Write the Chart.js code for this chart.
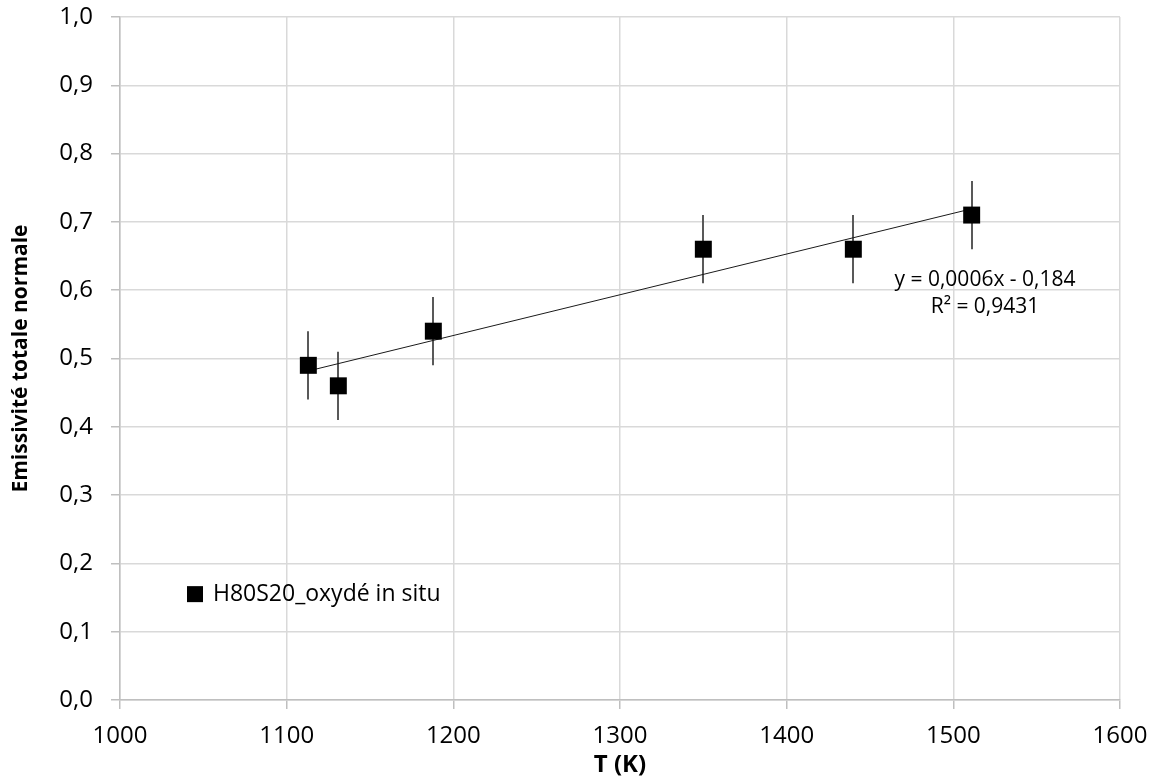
<!DOCTYPE html>
<html>
<head>
<meta charset="utf-8">
<script src="https://cdn.jsdelivr.net/npm/chart.js@4.4.0/dist/chart.umd.min.js"></script>
<style>
    html, body { margin: 0; padding: 0; background: #ffffff; }
    #wrap { width: 1159px; height: 782px; }
</style>
</head>
<body>
<div id="wrap"><canvas id="chart" width="1159" height="782"></canvas></div>
<script>
// Measured points (T in K, normal total emissivity)
const temperatures = [1113, 1131, 1188, 1350, 1440, 1511];
const emissivity = [0.49, 0.46, 0.54, 0.66, 0.66, 0.71];
const errorMargin = [0.05, 0.05, 0.05, 0.05, 0.05, 0.05];

const seriesLabel = 'H80S20_oxydé in situ';
const trendText = ['y = 0,0006x - 0,184', 'R² = 0,9431'];
const xTitle = 'T (K)';
const yTitle = 'Emissivité totale normale';

const FONT = "'Open Sans', 'Liberation Sans', sans-serif";
const TEXT_COLOR = '#000000';
const GRID_COLOR = '#d9d9d9';
const AXIS_COLOR = '#bfbfbf';

// least squares trend, same as the spreadsheet trendline
function linearFit(xs, ys) {
    const n = xs.length;
    const mx = xs.reduce((a, b) => a + b, 0) / n;
    const my = ys.reduce((a, b) => a + b, 0) / n;
    let sxy = 0, sxx = 0;
    for (let i = 0; i < n; i++) {
        sxy += (xs[i] - mx) * (ys[i] - my);
        sxx += (xs[i] - mx) * (xs[i] - mx);
    }
    const slope = sxy / sxx;
    return { slope: slope, intercept: my - slope * mx };
}

const fit = linearFit(temperatures, emissivity);
const xFirst = Math.min(...temperatures);
const xLast = Math.max(...temperatures);
const trendPoints = [
    { x: xFirst, y: fit.slope * xFirst + fit.intercept },
    { x: xLast, y: fit.slope * xLast + fit.intercept }
];
const points = temperatures.map((t, i) => ({ x: t, y: emissivity[i] }));

// vertical error bars, drawn behind the markers
const errorBarPlugin = {
    id: 'errorBars',
    beforeDatasetsDraw(chart) {
        const ctx = chart.ctx;
        const xs = chart.scales.x;
        const ys = chart.scales.y;
        ctx.save();
        ctx.strokeStyle = '#595959';
        ctx.lineWidth = 2;
        temperatures.forEach((t, i) => {
            const px = Math.round(xs.getPixelForValue(t));
            ctx.beginPath();
            ctx.moveTo(px, ys.getPixelForValue(emissivity[i] - errorMargin[i]));
            ctx.lineTo(px, ys.getPixelForValue(emissivity[i] + errorMargin[i]));
            ctx.stroke();
        });
        ctx.restore();
    }
};

// legend box inside the plot + trendline equation
const labelsPlugin = {
    id: 'labels',
    afterDraw(chart) {
        const ctx = chart.ctx;
        const xs = chart.scales.x;
        const ys = chart.scales.y;
        ctx.save();
        ctx.fillStyle = TEXT_COLOR;
        ctx.textBaseline = 'middle';

        // legend
        ctx.font = '23px ' + FONT;
        const lx = xs.getPixelForValue(1045);
        const ly = ys.getPixelForValue(0.155);
        ctx.fillRect(lx - 8, ly - 8, 16, 16);
        ctx.textAlign = 'left';
        ctx.fillText(seriesLabel, lx + 18, ly);

        // equation
        ctx.font = '21px ' + FONT;
        ctx.textAlign = 'center';
        const ex = xs.getPixelForValue(1519);
        ctx.fillText(trendText[0], ex, ys.getPixelForValue(0.615));
        ctx.fillText(trendText[1], ex, ys.getPixelForValue(0.576));
        ctx.restore();
    }
};

new Chart(document.getElementById('chart'), {
    type: 'scatter',
    data: {
        datasets: [
            {
                label: 'trend',
                type: 'line',
                data: trendPoints,
                borderColor: '#1a1a1a',
                borderWidth: 1,
                pointRadius: 0,
                fill: false,
                order: 2
            },
            {
                label: seriesLabel,
                data: points,
                pointStyle: 'rect',
                pointRadius: 12,
                pointHoverRadius: 12,
                backgroundColor: '#000000',
                borderColor: '#000000',
                borderWidth: 0,
                order: 1
            }
        ]
    },
    options: {
        responsive: false,
        animation: false,
        layout: { padding: { top: 17, right: 39, left: 0, bottom: 0 } },
        plugins: {
            legend: { display: false },
            tooltip: { enabled: false }
        },
        scales: {
            x: {
                type: 'linear',
                min: 1000,
                max: 1600,
                afterFit(scale) {
                    scale.height = 82;
                    scale.paddingLeft = 0;
                    scale.paddingRight = 0;
                },
                ticks: {
                    stepSize: 100,
                    color: TEXT_COLOR,
                    padding: 13,
                    font: { family: FONT, size: 24 },
                    callback: v => String(v)
                },
                grid: {
                    color: GRID_COLOR,
                    lineWidth: 1.5,
                    tickLength: 9,
                    tickColor: AXIS_COLOR
                },
                border: { color: AXIS_COLOR, width: 1.5 },
                title: {
                    display: true,
                    text: xTitle,
                    color: TEXT_COLOR,
                    font: { family: FONT, size: 24, weight: 'bold' },
                    padding: { top: 0, bottom: 2 }
                }
            },
            y: {
                type: 'linear',
                min: 0,
                max: 1,
                afterFit(scale) {
                    scale.width = 120;
                    scale.paddingTop = 0;
                    scale.paddingBottom = 0;
                },
                ticks: {
                    stepSize: 0.1,
                    color: TEXT_COLOR,
                    padding: 18,
                    font: { family: FONT, size: 24 },
                    callback: v => v.toFixed(1).replace('.', ',')
                },
                grid: {
                    color: GRID_COLOR,
                    lineWidth: 1.5,
                    tickLength: 9,
                    tickColor: AXIS_COLOR
                },
                border: { color: AXIS_COLOR, width: 1.5 },
                title: {
                    display: true,
                    text: yTitle,
                    color: TEXT_COLOR,
                    font: { family: FONT, size: 21, weight: 'bold' },
                    padding: { top: 8, bottom: 0 }
                }
            }
        }
    },
    plugins: [errorBarPlugin, labelsPlugin]
});
</script>
</body>
</html>
